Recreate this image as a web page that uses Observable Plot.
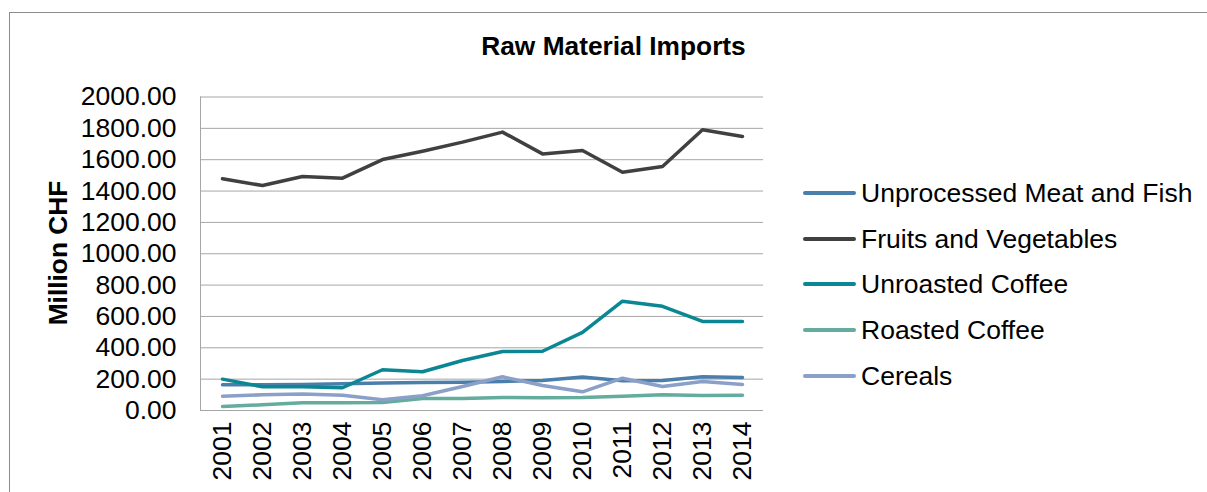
<!DOCTYPE html>
<html>
<head>
<meta charset="utf-8">
<script src="https://cdn.jsdelivr.net/npm/d3@7"></script>
<script src="https://cdn.jsdelivr.net/npm/@observablehq/plot@0.6"></script>
<style>
  html, body { margin: 0; padding: 0; background: #fff; }
  #wrap { position: relative; width: 1207px; height: 492px; overflow: hidden; font-family: "Liberation Sans", Arial, sans-serif; color: #000; }
  #border { position: absolute; left: 9px; top: 12px; width: 1400px; height: 700px; border: 1px solid #8c8c8c; box-sizing: border-box; }
  #chart { position: absolute; left: 0; top: 0; }
  #title { position: absolute; left: 0; width: 1227px; top: 31px; text-align: center; font-weight: bold; font-size: 26.3px; line-height: 30px; }
  #ylabel { position: absolute; left: 58px; top: 253px; transform: translate(-50%, -50%) rotate(-90deg); font-weight: bold; font-size: 26.3px; white-space: nowrap; line-height: 30px; }
  .leg { position: absolute; left: 803px; height: 30px; display: flex; align-items: center; font-size: 26.5px; white-space: nowrap; }
  .sw { width: 53px; height: 4px; border-radius: 2px; margin-right: 5px; }
</style>
</head>
<body>
<div id="wrap">
  <div id="border"></div>
  <div id="chart"></div>
  <div id="title">Raw Material Imports</div>
  <div id="ylabel">Million CHF</div>
  <div id="legend"></div>
</div>
<script>
const years = ["2001","2002","2003","2004","2005","2006","2007","2008","2009","2010","2011","2012","2013","2014"];
const seriesNames = ["Unprocessed Meat and Fish","Fruits and Vegetables","Unroasted Coffee","Roasted Coffee","Cereals"];
const seriesColors = ["#4a7eab","#404040","#0b8793","#63ac9e","#8ba0c8"];
const meatFish   = [164, 164, 166, 170, 175, 179, 181, 185, 191, 213, 190, 192, 215, 211];
const fruitsVeg  = [1478, 1435, 1493, 1482, 1601, 1654, 1712, 1776, 1637, 1659, 1520, 1557, 1791, 1748];
const unroasted  = [200, 151, 151, 145, 260, 247, 319, 376, 378, 498, 697, 665, 568, 568];
const roasted    = [26, 36, 49, 49, 51, 77, 77, 83, 81, 83, 91, 100, 96, 98];
const cereals    = [91, 100, 106, 98, 68, 94, 153, 215, 160, 119, 206, 153, 185, 166];
const yTicks = [0, 200, 400, 600, 800, 1000, 1200, 1400, 1600, 1800, 2000];

const seriesValues = [meatFish, fruitsVeg, unroasted, roasted, cereals];
const data = seriesNames.flatMap((name, i) =>
  years.map((year, j) => ({ series: name, year, value: seriesValues[i][j] }))
);

const chart = Plot.plot({
  width: 1207,
  height: 492,
  marginLeft: 200,
  marginRight: 444,
  marginTop: 96.5,
  marginBottom: 82,
  style: { fontFamily: "'Liberation Sans', Arial, sans-serif", fontSize: "26.5px", color: "#000", background: "transparent", overflow: "visible" },
  x: { type: "point", domain: years, padding: 0.5 },
  y: { domain: [0, 2000] },
  color: { domain: seriesNames, range: seriesColors },
  marks: [
    Plot.gridY(yTicks, { stroke: "#a6a6a6", strokeOpacity: 1, strokeWidth: 1 }),
    Plot.frame({ anchor: "left", stroke: "#a6a6a6", strokeWidth: 1 }),
    Plot.axisY(yTicks, { tickSize: 0, tickPadding: 24, tickFormat: d3.format(".2f"), label: null, fontSize: 26.5 }),
    Plot.axisX({ tickSize: 0, tickRotate: -90, tickPadding: 11, label: null, fontSize: 26.5 }),
    Plot.line(data, { x: "year", y: "value", z: "series", stroke: "series", strokeWidth: 3.5, strokeLinecap: "round", strokeLinejoin: "round" })
  ]
});
document.getElementById("chart").appendChild(chart);

const legendY = [193, 239, 284, 330, 376];
const legend = document.getElementById("legend");
seriesNames.forEach((name, i) => {
  const row = document.createElement("div");
  row.className = "leg";
  row.style.top = (legendY[i] - 15) + "px";
  const sw = document.createElement("div");
  sw.className = "sw";
  sw.style.background = seriesColors[i];
  const t = document.createElement("span");
  t.textContent = name;
  row.appendChild(sw);
  row.appendChild(t);
  legend.appendChild(row);
});
</script>
</body>
</html>
